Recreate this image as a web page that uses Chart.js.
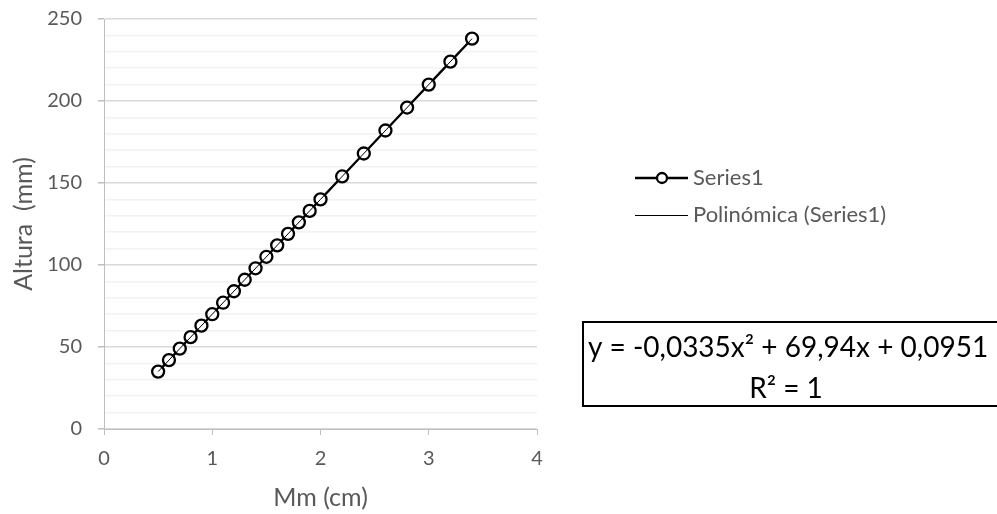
<!DOCTYPE html>
<html>
<head>
<meta charset="utf-8">
<script src="https://cdn.jsdelivr.net/npm/chart.js@4/dist/chart.umd.min.js"></script>
<style>
html,body{margin:0;padding:0;background:#fff;}
#wrap{width:997px;height:514px;position:relative;}
</style>
</head>
<body>
<div id="wrap"><canvas id="c" width="997" height="514"></canvas></div>
<script>
// Data
const xValues = [0.5,0.6,0.7,0.8,0.9,1.0,1.1,1.2,1.3,1.4,1.5,1.6,1.7,1.8,1.9,2.0,2.2,2.4,2.6,2.8,3.0,3.2,3.4];
const yValues = [35,42,49,56,63,70,77,84,91,98,105,112,119,126,133,140,154,168,182,196,210,224,238];
const trendX = [0.5, 2.0, 3.4];
const trendY = [35, 140, 238];
const seriesName = 'Series1';
const trendName = 'Polinómica (Series1)';
const equationText = 'y = -0,0335x² + 69,94x + 0,0951';
const r2Text = 'R² = 1';
const xTitle = 'Mm (cm)';
const yTitle = 'Altura  (mm)';
const yMajorTicks = [0,50,100,150,200,250];
const xTicks = [0,1,2,3,4];

const FONT = 'Lato, "Open Sans", sans-serif';
const GRAY_TEXT = '#595959';

const seriesPoints = xValues.map((x,i)=>({x:x,y:yValues[i]}));
const trendPoints = trendX.map((x,i)=>({x:x,y:trendY[i]}));

const extrasPlugin = {
  id:'extras',
  afterDraw(chart){
    const ctx = chart.ctx;
    ctx.save();
    // legend
    const lx0 = 635, lx1 = 688, ly1 = 178, ly2 = 215;
    ctx.strokeStyle = '#000';
    ctx.lineWidth = 2.3;
    ctx.beginPath(); ctx.moveTo(lx0, ly1); ctx.lineTo(lx1, ly1); ctx.stroke();
    ctx.beginPath(); ctx.arc(662, ly1, 5, 0, Math.PI*2);
    ctx.fillStyle = '#fff'; ctx.fill(); ctx.stroke();
    ctx.lineWidth = 1;
    ctx.beginPath(); ctx.moveTo(lx0, ly2+0.5); ctx.lineTo(lx1, ly2+0.5); ctx.stroke();
    ctx.fillStyle = GRAY_TEXT;
    ctx.font = '22px ' + FONT;
    ctx.textBaseline = 'middle';
    ctx.textAlign = 'left';
    ctx.fillText(seriesName, 693, ly1);
    ctx.fillText(trendName, 693, ly2);
    // equation box
    ctx.strokeStyle = '#000';
    ctx.lineWidth = 2;
    ctx.strokeRect(583, 322, 430, 84);
    ctx.fillStyle = '#000';
    ctx.font = '28px ' + FONT;
    ctx.textAlign = 'center';
    ctx.fillText(equationText, 788, 348);
    ctx.fillText(r2Text, 786, 389);
    ctx.restore();
  }
};

new Chart(document.getElementById('c'), {
  type:'scatter',
  data:{
    datasets:[
      {
        label: trendName,
        data: trendPoints,
        showLine:true,
        borderColor:'#000',
        borderWidth:1,
        pointRadius:0,
        order:0
      },
      {
        label: seriesName,
        data: seriesPoints,
        showLine:true,
        borderColor:'#000',
        borderWidth:2.3,
        pointRadius:6,
        pointBorderWidth:2.3,
        pointBackgroundColor:'#fff',
        pointBorderColor:'#000',
        order:1
      }
    ]
  },
  options:{
    responsive:false,
    animation:false,
    layout:{padding:{left:0,right:460,top:19,bottom:0}},
    plugins:{legend:{display:false},tooltip:{enabled:false}},
    scales:{
      x:{
        type:'linear', min:0, max:4,
        afterBuildTicks(s){ s.ticks = xTicks.map(v=>({value:v})); },
        afterFit(s){ s.height = 85; },
        grid:{drawOnChartArea:false, color:'#bfbfbf', tickLength:6},
        border:{color:'#bfbfbf', width:1},
        ticks:{color:GRAY_TEXT, font:{family:FONT,size:20}, padding:12, autoSkip:false, maxRotation:0},
        title:{display:true, text:xTitle, color:GRAY_TEXT, font:{family:FONT,size:25}, padding:{top:0,bottom:1}}
      },
      y:{
        type:'linear', min:0, max:250,
        ticks:{stepSize:10, color:GRAY_TEXT, font:{family:FONT,size:20}, padding:16, autoSkip:false,
          callback:(v)=> yMajorTicks.includes(v) ? String(v) : ''},
        afterFit(s){ s.width = 104; s.paddingTop = 0; s.paddingBottom = 0; },
        grid:{
          color:(c)=> (c.tick && yMajorTicks.includes(c.tick.value)) ? '#d9d9d9' : '#f2f2f2',
          tickColor:(c)=> (c.tick && yMajorTicks.includes(c.tick.value)) ? '#bfbfbf' : 'rgba(0,0,0,0)',
          tickLength:6, lineWidth:1.5
        },
        border:{color:'#bfbfbf', width:1},
        title:{display:true, text:yTitle, color:GRAY_TEXT, font:{family:FONT,size:25}, padding:{top:9,bottom:0}}
      }
    }
  },
  plugins:[extrasPlugin]
});
</script>
</body>
</html>
